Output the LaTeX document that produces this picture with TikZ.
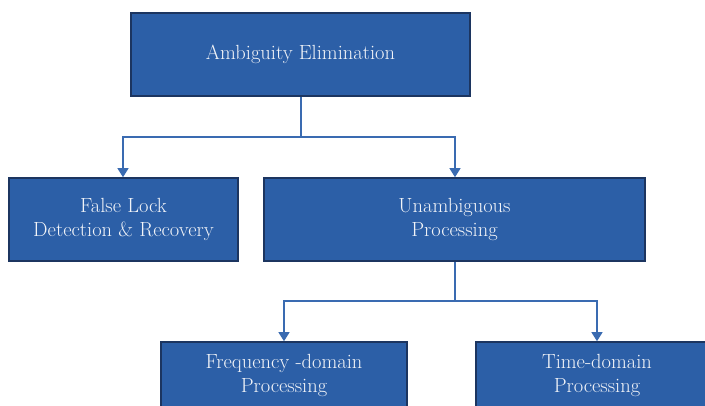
\documentclass[tikz,border=0pt]{standalone}
\usetikzlibrary{arrows.meta}
\definecolor{boxfill}{HTML}{2C5FA7}
\definecolor{boxedge}{HTML}{1C3560}
\definecolor{linkcol}{HTML}{3A6BB1}
\definecolor{labelcol}{HTML}{F2F4F8}
\begin{document}
\begin{tikzpicture}[x=1pt,y=1pt,
  block/.style={draw=boxedge, line width=1.6pt, fill=boxfill, text=labelcol,
    align=center, font=\fontsize{20.5}{24.5}\selectfont, inner sep=0pt},
  link/.style={draw=linkcol, line width=1.1pt},
  arrow/.style={link, -{Triangle[width=11pt,length=9pt]}}]
  \useasboundingbox (0,0) rectangle (705,-405);
  \clip (0,0) rectangle (705,-405);

  % top-level box
  \node[block, minimum width=339pt, minimum height=83pt] (root) at (300.5,-54.5) {Ambiguity Elimination};

  % second level
  \node[block, minimum width=229pt, minimum height=83pt] (lock) at (123.5,-219.5) {False Lock\\Detection \& Recovery};
  \node[block, minimum width=381pt, minimum height=83pt] (unamb) at (454.5,-219.5) {Unambiguous\\Processing};

  % third level
  \node[block, minimum width=246pt, minimum height=67pt] (freq) at (284,-375.5) {Frequency -domain\\Processing};
  \node[block, minimum width=242pt, minimum height=67pt] (time) at (597,-375.5) {Time-domain\\Processing};

  % connectors from the root
  \coordinate (s1) at (root.south -| 301,0);
  \coordinate (j1) at (301,-137);
  \draw[link] (s1) -- (j1);
  \draw[arrow] (j1) -| (lock.north -| 123,0);
  \draw[arrow] (j1) -| (unamb.north -| 455,0);

  % connectors from the unambiguous branch
  \coordinate (s2) at (unamb.south -| 455,0);
  \coordinate (j2) at (455,-301);
  \draw[link] (s2) -- (j2);
  \draw[arrow] (j2) -| (freq.north);
  \draw[arrow] (j2) -| (time.north);
\end{tikzpicture}
\end{document}
